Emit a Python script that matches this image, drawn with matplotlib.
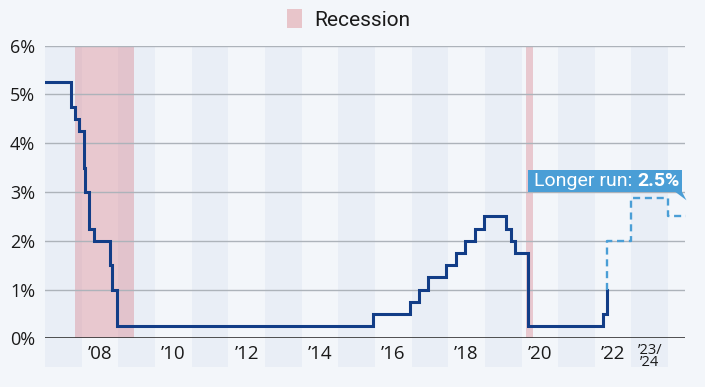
import matplotlib.pyplot as plt
from matplotlib.patches import Patch, Polygon, Rectangle

# Fed funds target rate (upper bound), decimal years
rate_dates = [2007.0, 2007.71, 2007.83, 2007.94, 2008.06, 2008.08, 2008.21, 2008.33,
              2008.77, 2008.82, 2008.96, 2015.96, 2016.95, 2017.20, 2017.45, 2017.95,
              2018.22, 2018.45, 2018.73, 2018.97, 2019.58, 2019.71, 2019.83,
              2020.19, 2022.21, 2022.34]
rate_values = [5.25, 4.75, 4.5, 4.25, 3.5, 3.0, 2.25, 2.0,
               1.5, 1.0, 0.25, 0.5, 0.75, 1.0, 1.25, 1.5,
               1.75, 2.0, 2.25, 2.5, 2.25, 2.0, 1.75,
               0.25, 0.5, 1.0]

# projected path
proj_dates = [2022.34, 2022.34, 2023.0, 2024.0, 2024.5]
proj_values = [1.0, 2.0, 2.875, 2.5, 2.5]

recessions = [(2007.83, 2009.42), (2020.12, 2020.32)]
band_years = [2007, 2009, 2011, 2013, 2015, 2017, 2019, 2021, 2023]

tick_pos = [2008.5, 2010.5, 2012.5, 2014.5, 2016.5, 2018.5, 2020.5, 2022.5]
tick_labels = ["\u201908", "\u201910", "\u201912", "\u201914", "\u201916", "\u201918", "\u201920", "\u201922"]

BG = "#f3f6fa"
BAND = "#e9eef6"
NAVY = "#123d87"
LIGHT = "#4a9ed6"

plt.rcParams["font.family"] = ["Open Sans", "DejaVu Sans"]

fig = plt.figure(figsize=(7.05, 3.87), dpi=100, facecolor=BG)
ax = fig.add_axes([45 / 705, 48.7 / 387, 640 / 705, 292.6 / 387])
ax.set_facecolor(BG)

for y in band_years:
    ax.axvspan(y, y + 1, ymin=-0.098, ymax=1, color=BAND, lw=0, zorder=0.1, clip_on=False)

for a, b in recessions:
    ax.axvspan(a, b, color="#d9838f", alpha=0.4, lw=0, zorder=0.3)

for v in range(1, 7):
    ax.axhline(v, color="#adb3ba", lw=1, zorder=0.5)
ax.axhline(0, color="#333333", lw=1.2, zorder=3)

ax.step(rate_dates, rate_values, where="post", color=NAVY, lw=2.2, zorder=4,
        solid_joinstyle="miter")
ax.step(proj_dates, proj_values, where="post", color=LIGHT, lw=1.7,
        linestyle=(0, (3, 2)), zorder=4, clip_on=False)

ax.set_xlim(2007, 2024.46)
ax.set_ylim(0, 6)
for s in ax.spines.values():
    s.set_visible(False)

ax.set_yticks(range(0, 7))
ax.set_yticklabels([f"{v}%" for v in range(0, 7)], fontsize=13, color="#1a1a1a")
ax.set_xticks(tick_pos)
ax.set_xticklabels(tick_labels, fontsize=13.5, color="#1a1a1a")
ax.tick_params(length=0, axis="y", pad=7)
ax.tick_params(length=0, axis="x", pad=5)
ax.text(2023.5, -0.09, "\u201923/\n\u201924", ha="center", va="top", fontsize=10.5,
        color="#1a1a1a", linespacing=0.8)

# longer-run label
ax.add_patch(Rectangle((2020.18, 3.0), 4.2, 0.45, color=LIGHT, lw=0, zorder=5, clip_on=False))
ax.add_patch(Polygon([(2024.2, 3.0), (2024.38, 3.0), (2024.5, 2.83)], closed=True,
                     color=LIGHT, lw=0, zorder=5, clip_on=False))
t1 = ax.text(2020.35, 3.22, "Longer run: ", ha="left", va="center", fontsize=14,
             color="white", zorder=6, family=["Roboto", "DejaVu Sans"])
ax.annotate("2.5%", xy=(1, 0.5), xycoords=t1, ha="left", va="center", fontsize=14,
            color="white", fontweight="bold", zorder=6, family=["Roboto", "DejaVu Sans"])

fig.legend(handles=[Patch(facecolor="#e8c5ca", edgecolor="none", label="Recession")],
           loc="upper center", bbox_to_anchor=(0.495, 1.025), frameon=False,
           prop={"family": ["Roboto", "DejaVu Sans"], "size": 15},
           handlelength=0.7, handleheight=1.0, handletextpad=0.6, labelcolor="#1a1a1a")

fig.savefig("out.png", dpi=100, facecolor=BG)
